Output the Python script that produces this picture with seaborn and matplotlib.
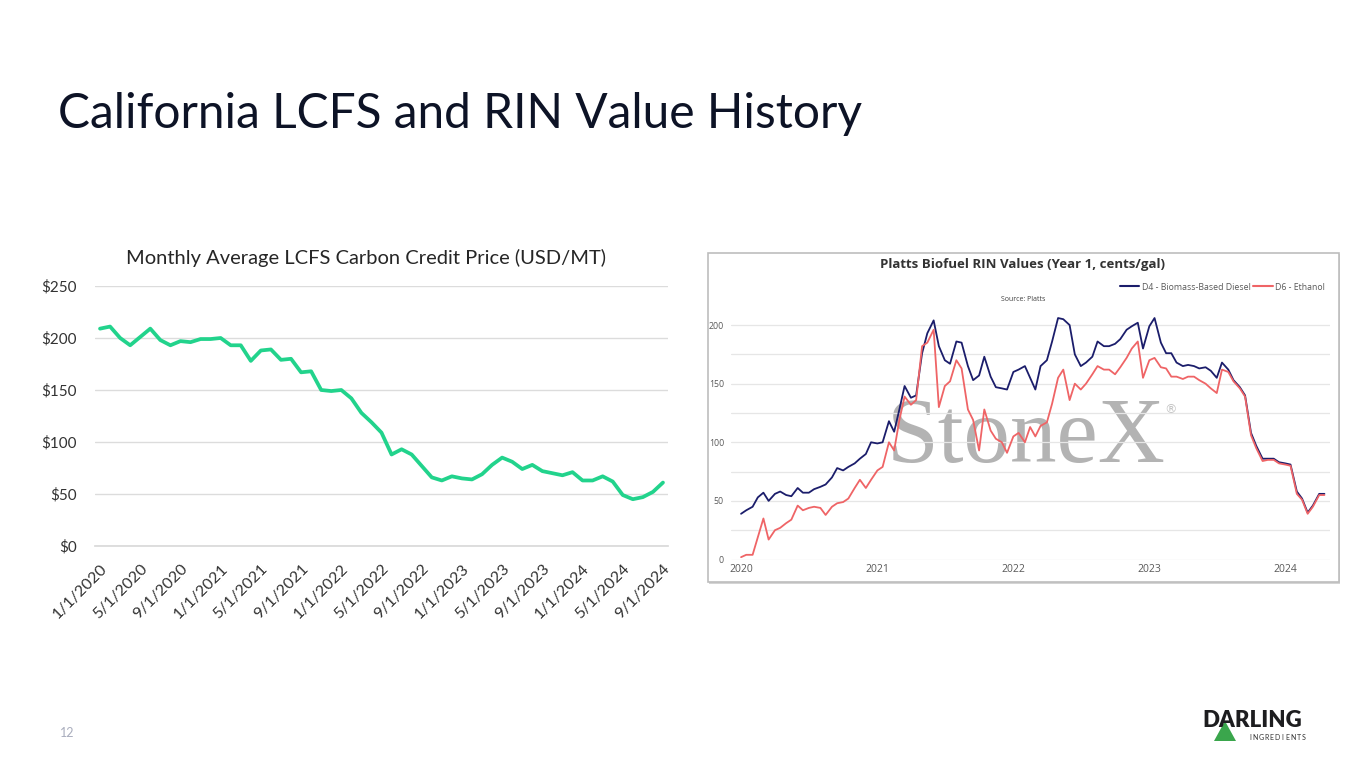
import pandas as pd
import numpy as np
import seaborn as sns
import matplotlib.pyplot as plt
import matplotlib.dates as mdates
from matplotlib.patches import Rectangle, Polygon
from matplotlib.lines import Line2D

# LCFS monthly average price, Jan 2020 .. Sep 2024 (USD/MT)
lcfs_price = [209, 211, 200, 193, 201, 209, 198, 193, 197, 196,
              199, 199, 200, 193, 193, 178, 188, 189, 179, 180,
              167, 168, 150, 149, 150, 142, 128, 119, 109, 88,
              93, 88, 77, 66, 63, 67, 65, 64, 69, 78,
              85, 81, 74, 78, 72, 70, 68, 71, 63, 63,
              67, 62, 49, 45, 47, 52, 61]
lcfs_start = '2020-01-01'

# Platts RIN values, semi-monthly readings from Jan 2020 (cents/gal)
d4_rin = [39, 42, 45, 53, 57, 50, 56, 58, 55, 54,
          61, 57, 57, 60, 62, 64, 70, 78, 76, 79,
          82, 86, 90, 100, 99, 100, 118, 109, 128, 148,
          138, 140, 176, 193, 204, 182, 170, 167, 186, 185,
          165, 153, 157, 173, 156, 147, 146, 145, 160, 162,
          165, 155, 145, 165, 170, 186, 206, 205, 200, 175,
          165, 168, 173, 186, 182, 182, 184, 188, 196, 199,
          202, 180, 199, 206, 185, 176, 176, 168, 165, 166,
          165, 163, 164, 161, 155, 168, 162, 153, 147, 140,
          108, 97, 86, 86, 86, 83, 82, 81, 58, 52,
          40, 46, 56, 56]
d6_rin = [2, 4, 4, 19, 35, 17, 25, 27, 31, 34,
          46, 42, 44, 45, 44, 38, 45, 48, 49, 52,
          61, 68, 61, 68, 76, 79, 100, 93, 119, 139,
          132, 136, 182, 185, 196, 130, 148, 152, 170, 163,
          128, 119, 93, 128, 110, 103, 100, 91, 105, 108,
          100, 113, 105, 114, 117, 133, 155, 162, 136, 150,
          145, 150, 158, 165, 162, 162, 158, 164, 172, 180,
          186, 155, 170, 172, 164, 163, 156, 156, 154, 156,
          156, 153, 150, 146, 142, 162, 160, 152, 146, 139,
          106, 95, 84, 85, 85, 82, 81, 80, 56, 51,
          39, 45, 55, 55]
rin_start = '2020-01-01'
series_names = ['D4 - Biomass-Based Diesel', 'D6 - Ethanol']

W, H = 1365, 768


def fx(x):
    return x / W


def fy(y):
    return 1 - y / H


sns.set_theme(style='white')
plt.rcParams['font.family'] = ['Lato', 'DejaVu Sans']

fig = plt.figure(figsize=(13.65, 7.68), dpi=100)
fig.patch.set_facecolor('white')

# ---- slide text ----
fig.text(fx(58), fy(128), 'California LCFS and RIN Value History', fontsize=34.5,
         color='#0d1326', va='baseline', ha='left')
fig.text(fx(60), fy(733), '12', fontsize=9, color='#a9adbd', va='center')

# logo
fig.text(fx(1202), fy(727), 'DARLING', fontsize=16, weight='heavy', color='#1d1d1f',
         va='baseline', ha='left')
for i, ch in enumerate('INGREDIENTS'):
    fig.text(fx(1250 + i * 5.4), fy(737), ch, fontsize=5, color='#333333',
             va='center', ha='center')
fig.add_artist(Polygon([[fx(1214), fy(741)], [fx(1236), fy(741)], [fx(1225), fy(721)]],
                       closed=True, transform=fig.transFigure, facecolor='#3aa64c',
                       edgecolor='none'))

# ---- left chart: LCFS ----
lcfs_df = pd.DataFrame({'price': lcfs_price})
lcfs_df['pos'] = range(len(lcfs_df))
lcfs_dates = pd.date_range(lcfs_start, periods=len(lcfs_price), freq='MS')

ax1 = fig.add_axes([fx(95), fy(546), fx(668) - fx(95), (546 - 286) / H])
ax1.set_facecolor('none')
sns.lineplot(data=lcfs_df, x='pos', y='price', ax=ax1, color='#22d38c', linewidth=2.7)
ax1.set_xlim(-0.5, len(lcfs_price) - 0.5)
ax1.set_ylim(0, 250)
ax1.set_yticks(range(0, 251, 50))
ax1.set_yticklabels(['\\$' + str(v) for v in range(0, 251, 50)])
major = list(range(0, len(lcfs_price), 4))
ax1.set_xticks(major)
ax1.set_xticklabels([f'{d.month}/1/{d.year}' for d in lcfs_dates[major]],
                    rotation=45, ha='right', rotation_mode='anchor')
ax1.set_xticks([m - 0.5 for m in major] + [len(lcfs_price) - 0.5], minor=True)
ax1.tick_params(axis='x', which='major', length=0, pad=11, labelsize=11.5, labelcolor='#333333')
ax1.tick_params(axis='x', which='minor', length=5, width=1, color='#d9d9d9')
ax1.tick_params(axis='y', length=0, pad=13, labelsize=11, labelcolor='#333333')
ax1.yaxis.grid(True, color='#dcdcdc', linewidth=1)
for s in ['top', 'right', 'left']:
    ax1.spines[s].set_visible(False)
ax1.spines['bottom'].set_color('#d9d9d9')
ax1.set_xlabel('')
ax1.set_ylabel('')
fig.text(fx(366), fy(258), 'Monthly Average LCFS Carbon Credit Price (USD/MT)',
         fontsize=14.5, color='#262626', ha='center', va='center')

# ---- right chart: RIN values (image box) ----
fig.add_artist(Rectangle((fx(709), fy(583.5)), (1339.5 - 709) / W, (583.5 - 254) / H,
                         transform=fig.transFigure, facecolor='#d4d4d4',
                         edgecolor='none', zorder=-2))
fig.add_artist(Rectangle((fx(707.5), fy(582)), (1338.5 - 707.5) / W, (582 - 252.5) / H,
                         transform=fig.transFigure, facecolor='white',
                         edgecolor='#bdbdbd', linewidth=1.2, zorder=-1))

rin_dates = pd.date_range(rin_start, periods=len(d4_rin), freq='SMS')
rin_df = pd.concat([
    pd.DataFrame({'date': rin_dates, 'value': d4_rin, 'series': series_names[0]}),
    pd.DataFrame({'date': rin_dates, 'value': d6_rin, 'series': series_names[1]}),
])
rin_colors = {series_names[0]: '#1b1d6b', series_names[1]: '#ef6466'}

ax2 = fig.add_axes([fx(731), fy(559.5), fx(1330) - fx(731), (559.5 - 311) / H])
ax2.set_facecolor('none')
ax2.text(fx(1026), fy(462), 'StoneX', transform=fig.transFigure, fontsize=67,
         family='Liberation Serif', color='#b3b3b3', ha='center', va='baseline', zorder=0.2)
ax2.text(fx(1170), fy(410), '\u00ae', transform=fig.transFigure, fontsize=9,
         family='DejaVu Sans', color='#c4c4c4', ha='center', va='center', zorder=0.2)
sns.lineplot(data=rin_df, x='date', y='value', hue='series', hue_order=series_names,
             palette=rin_colors, linewidth=1.3, ax=ax2, legend=False)
ax2.set_xlim(pd.Timestamp('2019-12-05'), pd.Timestamp('2024-04-30'))
ax2.set_ylim(0, 212)
ax2.set_yticks(range(0, 201, 50))
ax2.set_yticks(range(25, 200, 50), minor=True)
ax2.xaxis.set_major_locator(mdates.YearLocator())
ax2.xaxis.set_major_formatter(mdates.DateFormatter('%Y'))
ax2.grid(True, which='both', axis='y', color='#e6e6e6', linewidth=0.9)
ax2.set_axisbelow(True)
ax2.tick_params(axis='y', which='both', length=0, pad=5, labelsize=6.3, labelcolor='#595959')
ax2.tick_params(axis='x', length=0, pad=3, labelsize=7.5, labelcolor='#595959')
for lbl in ax2.get_xticklabels() + ax2.get_yticklabels():
    lbl.set_family(['Open Sans', 'DejaVu Sans'])
for s in ax2.spines.values():
    s.set_visible(False)
ax2.set_xlabel('')
ax2.set_ylabel('')

fig.text(fx(1023), fy(265), 'Platts Biofuel RIN Values (Year 1, cents/gal)', fontsize=9.5,
         weight='bold', color='#333333', ha='center', va='center', family='Open Sans')
fig.text(fx(1023), fy(299), 'Source: Platts', fontsize=5, color='#404040',
         ha='center', va='center', family='Open Sans')
handles = [Line2D([], [], color=rin_colors[n], linewidth=1.5) for n in series_names]
fig.legend(handles, series_names, loc='center right', bbox_to_anchor=(fx(1333), fy(287)),
           ncol=2, frameon=False, handlelength=2.2, handletextpad=0.3,
           columnspacing=0.3, labelcolor='#595959', prop={'family': 'Open Sans', 'size': 6.3})

fig.savefig('out.png', dpi=100)
